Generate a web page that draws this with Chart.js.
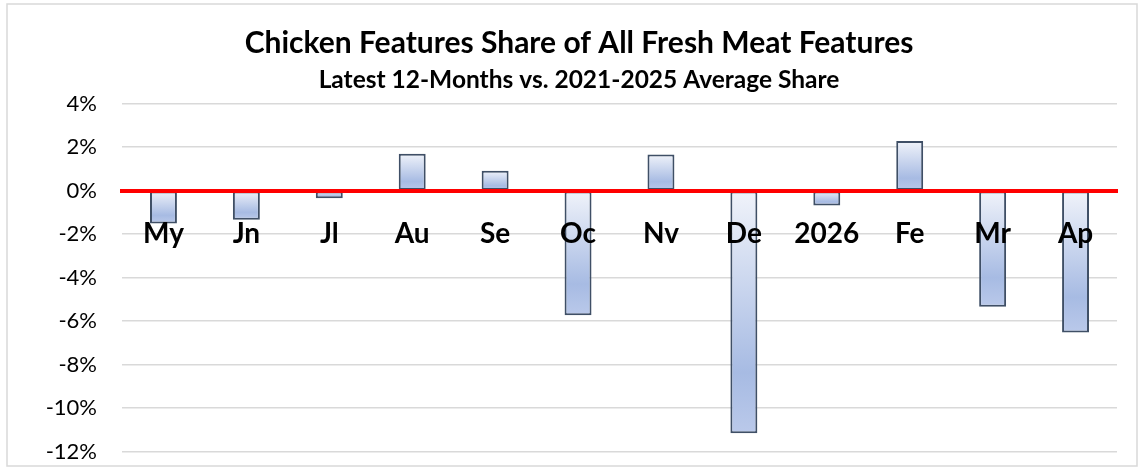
<!DOCTYPE html>
<html>
<head>
<meta charset="utf-8">
<script src="https://cdn.jsdelivr.net/npm/chart.js@4/dist/chart.umd.min.js"></script>
<style>
  html, body { margin: 0; padding: 0; background: #fff; }
  #wrap { width: 1143px; height: 473px; }
</style>
</head>
<body>
<div id="wrap"><canvas id="shareChart" width="1143" height="473"></canvas></div>
<script>
// month labels and chicken share vs 5-yr average (percentage points)
const months = ['My', 'Jn', 'Jl', 'Au', 'Se', 'Oc', 'Nv', 'De', '2026', 'Fe', 'Mr', 'Ap'];
const shareDiff = [-1.51, -1.33, -0.35, 1.70, 0.92, -5.73, 1.67, -11.15, -0.68, 2.28, -5.34, -6.52];
const yTicks = [4, 2, 0, -2, -4, -6, -8, -10, -12];

const fontFam = 'Lato, "Open Sans", sans-serif';

// light grey frame around the whole chart
const frame = {
  id: 'frame',
  beforeDraw(chart) {
    const c = chart.ctx;
    c.save();
    c.strokeStyle = '#d9d9d9';
    c.lineWidth = 1.5;
    c.strokeRect(7, 4, 1130, 462);
    c.restore();
  }
};

function barFill(ctx) {
  const chart = ctx.chart;
  const y = chart.scales.y;
  if (!y || ctx.raw === undefined) return '#b8c8ea';
  const p0 = y.getPixelForValue(0);
  const p1 = y.getPixelForValue(ctx.raw);
  if (!isFinite(p0) || !isFinite(p1)) return '#b8c8ea';
  const top = Math.min(p0, p1), bot = Math.max(p0, p1);
  const g = chart.ctx.createLinearGradient(0, top, 0, bot + 0.01);
  g.addColorStop(0, '#f0f3fa');
  g.addColorStop(0.75, '#a7bbe3');
  g.addColorStop(1, '#bac9ea');
  return g;
}

new Chart(document.getElementById('shareChart'), {
  type: 'bar',
  data: {
    labels: months,
    datasets: [{
      data: shareDiff,
      backgroundColor: barFill,
      borderColor: '#3f4f66',
      borderWidth: 2,
      borderSkipped: false,
      barPercentage: 0.325,
      categoryPercentage: 1
    }]
  },
  options: {
    responsive: false,
    animation: false,
    layout: { padding: { left: 41, right: 26, top: 0, bottom: 21.3 } },
    plugins: {
      legend: { display: false },
      tooltip: { enabled: false },
      title: {
        display: true,
        text: 'Chicken Features Share of All Fresh Meat Features',
        color: '#000',
        font: { family: fontFam, size: 30, weight: 'bold', lineHeight: 1.2 },
        padding: { top: 25, bottom: 0 }
      },
      subtitle: {
        display: true,
        text: 'Latest 12-Months vs. 2021-2025 Average Share',
        color: '#000',
        font: { family: fontFam, size: 24.5, weight: 'bold', lineHeight: 1.2 },
        padding: { top: 4.5, bottom: 8.8 }
      }
    },
    scales: {
      x: {
        position: { y: 0 },
        grid: { display: false, drawTicks: false },
        border: { display: true, color: '#ff0000', width: 4, z: 1 },
        ticks: {
          z: 1,
          color: '#000',
          padding: 26,
          maxRotation: 0,
          font: { family: fontFam, size: 28, weight: 'bold' }
        }
      },
      y: {
        min: -12,
        max: 4,
        afterFit(scale) {
          scale.width = 81;
          scale.paddingTop = 0;
          scale.paddingBottom = 0;
        },
        afterBuildTicks(scale) { scale.ticks = yTicks.map(v => ({ value: v })); },
        grid: { color: '#d9d9d9', lineWidth: 1.5, drawTicks: false },
        border: { display: false },
        ticks: {
          color: '#000',
          padding: 25,
          font: { family: fontFam, size: 22 },
          callback: v => v + '%'
        }
      }
    }
  },
  plugins: [frame]
});
</script>
</body>
</html>
